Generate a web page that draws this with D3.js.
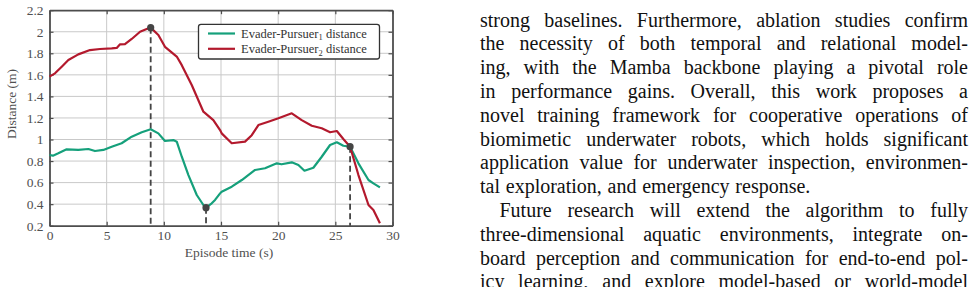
<!DOCTYPE html>
<html>
<head>
<meta charset="utf-8">
<script src="https://cdn.jsdelivr.net/npm/d3@7"></script>
<style>
  html, body { margin: 0; padding: 0; background: #fff; }
  svg { display: block; }
</style>
</head>
<body>
<svg id="page" width="976" height="287"></svg>
<script>
// ---------------- DATA ----------------
const timeP1 = [0,0.3,0.77,1.5,2.52,3.4,3.98,4.71,5.44,6.31,7.19,8.07,8.85,9.52,10.1,10.83,11.13,11.57,12.15,12.88,13.46,13.69,14.19,14.48,14.92,15.06,15.94,16.82,17.98,18.85,19.88,20.3,21.19,21.77,22.3,23.08,23.81,24.54,25.13,25.7,26.29,27.02,27.9,28.33,28.9];
const distP1 = [0.856,0.85,0.872,0.909,0.903,0.912,0.893,0.903,0.933,0.965,1.026,1.067,1.095,1.057,0.986,0.995,0.98,0.84,0.67,0.485,0.392,0.367,0.408,0.439,0.5,0.516,0.562,0.624,0.717,0.733,0.779,0.77,0.788,0.763,0.71,0.738,0.84,0.949,0.974,0.942,0.933,0.779,0.624,0.593,0.556];
const timeP2 = [0,0.48,1.07,1.65,2.52,3.54,4.42,5.44,5.88,6.17,6.6,7.19,7.92,8.5,8.85,9.52,10.1,11.13,11.57,12.44,13.46,14.33,14.92,15.06,15.94,17.1,17.69,18.27,19.14,20.02,21.19,22.06,22.94,23.81,24.54,25.13,25.7,26.29,27.02,27.9,28.33,28.9];
const distP2 = [1.583,1.614,1.676,1.738,1.79,1.83,1.84,1.846,1.85,1.883,1.886,1.933,2.0,2.026,2.038,1.97,1.86,1.77,1.69,1.506,1.258,1.18,1.088,1.057,0.965,0.98,1.04,1.134,1.165,1.197,1.243,1.18,1.128,1.104,1.067,1.079,1.005,0.933,0.67,0.392,0.346,0.222];
const markerTimes = [8.85, 13.69, 26.29];
const markerDists = [2.038, 0.367, 0.933];
const xTicks = [0, 5, 10, 15, 20, 25, 30];
const yTicks = [0.2, 0.4, 0.6, 0.8, 1, 1.2, 1.4, 1.6, 1.8, 2, 2.2];
const seriesNames = ["Evader-Pursuer", "Evader-Pursuer"];
const seriesSubs = ["1", "2"];
const xLabel = "Episode time (s)";
const yLabel = "Distance (m)";
const bodyLines = [
  "strong baselines. Furthermore, ablation studies confirm",
  "the necessity of both temporal and relational model-",
  "ing, with the Mamba backbone playing a pivotal role",
  "in performance gains. Overall, this work proposes a",
  "novel training framework for cooperative operations of",
  "biomimetic underwater robots, which holds significant",
  "application value for underwater inspection, environmen-",
  "tal exploration, and emergency response.",
  "Future research will extend the algorithm to fully",
  "three-dimensional aquatic environments, integrate on-",
  "board perception and communication for end-to-end pol-",
  "icy learning, and explore model-based or world-model"
];
const lineIndent = [0,0,0,0,0,0,0,0,1,0,0,0];
const lineJustify = [1,1,1,1,1,1,1,0,1,1,1,1];

// ---------------- CHART ----------------
const svg = d3.select("#page");
const L = 49.5, R = 392.5, T = 10.2, B = 225.7;
const x = d3.scaleLinear().domain([0, 30]).range([L, R]);
const y = d3.scaleLinear().domain([0.2, 2.2]).range([B, T]);
const axisCol = "#4d4d4d";
const fontSerif = "'Liberation Serif', 'Times New Roman', serif";
const green = "#15a07b", red = "#b3192d";

const chart = svg.append("g");

// grid
chart.append("g").selectAll("line").data(xTicks.slice(1, -1)).join("line")
  .attr("x1", d => x(d)).attr("x2", d => x(d)).attr("y1", T).attr("y2", B)
  .attr("stroke", "#c9c9c9").attr("stroke-width", 1);
chart.append("g").selectAll("line").data(yTicks.slice(1, -1)).join("line")
  .attr("y1", d => y(d)).attr("y2", d => y(d)).attr("x1", L).attr("x2", R)
  .attr("stroke", "#c9c9c9").attr("stroke-width", 1);

// axes via d3 axis (inward ticks)
const xAxis = d3.axisBottom(x).tickValues(xTicks).tickSizeInner(-4).tickSizeOuter(0).tickPadding(5).tickFormat(d3.format("d"));
const yAxis = d3.axisLeft(y).tickValues(yTicks).tickSizeInner(-4).tickSizeOuter(0).tickPadding(6).tickFormat(d => String(+d.toFixed(1)));
const gx = chart.append("g").attr("transform", `translate(0,${B})`).call(xAxis);
const gy = chart.append("g").attr("transform", `translate(${L},0)`).call(yAxis);
const gxTop = chart.append("g").attr("transform", `translate(0,${T})`).call(d3.axisTop(x).tickValues(xTicks).tickSizeInner(-4).tickSizeOuter(0).tickFormat(""));
const gyRight = chart.append("g").attr("transform", `translate(${R},0)`).call(d3.axisRight(y).tickValues(yTicks).tickSizeInner(-4).tickSizeOuter(0).tickFormat(""));
[gx, gy, gxTop, gyRight].forEach(g => {
  g.select(".domain").attr("stroke", axisCol).attr("stroke-width", 1.8);
  g.selectAll(".tick line").attr("stroke", axisCol).attr("stroke-width", 1.2);
  g.selectAll(".tick text").attr("fill", "#505050").attr("font-family", fontSerif).attr("font-size", "13.5px");
});
gx.selectAll(".tick text").attr("dy", "0.72em");

// axis labels
chart.append("text").attr("x", 229).attr("y", 256.5)
  .attr("text-anchor", "middle").attr("font-family", fontSerif).attr("font-size", "13.5px").attr("fill", "#505050")
  .text(xLabel);
chart.append("text").attr("transform", "translate(16,104) rotate(-90)")
  .attr("text-anchor", "middle").attr("font-family", fontSerif).attr("font-size", "13.5px").attr("fill", "#505050")
  .text(yLabel);

// lines
const lineGen = d3.line().x(d => x(d[0])).y(d => y(d[1]));
const s1 = timeP1.map((t, i) => [t, distP1[i]]);
const s2 = timeP2.map((t, i) => [t, distP2[i]]);

// dashed verticals
chart.append("g").selectAll("line").data(markerTimes.map((t, i) => [t, markerDists[i]])).join("line")
  .attr("x1", d => x(d[0])).attr("x2", d => x(d[0])).attr("y1", d => y(d[1])).attr("y2", B)
  .attr("stroke", "#444").attr("stroke-width", 1.8).attr("stroke-dasharray", "6,3.5");

chart.append("path").datum(s1).attr("d", lineGen).attr("fill", "none").attr("stroke", green).attr("stroke-width", 2.2).attr("stroke-linejoin", "round");
chart.append("path").datum(s2).attr("d", lineGen).attr("fill", "none").attr("stroke", red).attr("stroke-width", 2.2).attr("stroke-linejoin", "round");

// markers
chart.append("g").selectAll("circle").data(markerTimes.map((t, i) => [t, markerDists[i]])).join("circle")
  .attr("cx", d => x(d[0])).attr("cy", d => y(d[1])).attr("r", 3.6).attr("fill", "#454545");

// legend
const lg = chart.append("g");
lg.append("rect").attr("x", 198.5).attr("y", 24.3).attr("width", 181).attr("height", 34.7)
  .attr("rx", 2.5).attr("fill", "#fff").attr("stroke", "#333").attr("stroke-width", 1.3);
[green, red].forEach((c, i) => {
  const yy = 33.5 + i * 15.3;
  lg.append("line").attr("x1", 208).attr("x2", 235).attr("y1", yy).attr("y2", yy).attr("stroke", c).attr("stroke-width", 2.2);
  const t = lg.append("text").attr("x", 241).attr("y", yy + 4.3).attr("font-family", fontSerif).attr("font-size", "12.5px").attr("fill", "#333");
  t.append("tspan").text(seriesNames[i]);
  t.append("tspan").attr("font-size", "8.5px").attr("dy", 2.5).text(seriesSubs[i]);
  t.append("tspan").attr("dy", -2.5).text(" distance");
});

// ---------------- BODY TEXT ----------------
const textG = svg.append("g");
const tx0 = 480, tx1 = 968, base0 = 26.5, lead = 23.8, indent = 19.5;
const bodyFont = "'Liberation Serif', 'Times New Roman', serif";
const bodySize = 20;
const probe = textG.append("text").attr("font-family", bodyFont).attr("font-size", bodySize + "px").text("a a");
const probe2 = textG.append("text").attr("font-family", bodyFont).attr("font-size", bodySize + "px").text("aa");
const spaceW = probe.node().getComputedTextLength() - probe2.node().getComputedTextLength();
probe.remove(); probe2.remove();

bodyLines.forEach((line, i) => {
  const words = line.split(" ");
  const yy = base0 + i * lead;
  const start = tx0 + (lineIndent[i] ? indent : 0);
  const nodes = words.map(w => textG.append("text").attr("font-family", bodyFont).attr("font-size", bodySize + "px")
    .attr("fill", "#111").attr("y", yy).text(w));
  const widths = nodes.map(n => n.node().getComputedTextLength());
  const total = d3.sum(widths);
  const gap = lineJustify[i] && words.length > 1 ? (tx1 - start - total) / (words.length - 1) : spaceW * 1.15;
  let cx = start;
  nodes.forEach((n, k) => { n.attr("x", cx); cx += widths[k] + gap; });
});
</script>
</body>
</html>
